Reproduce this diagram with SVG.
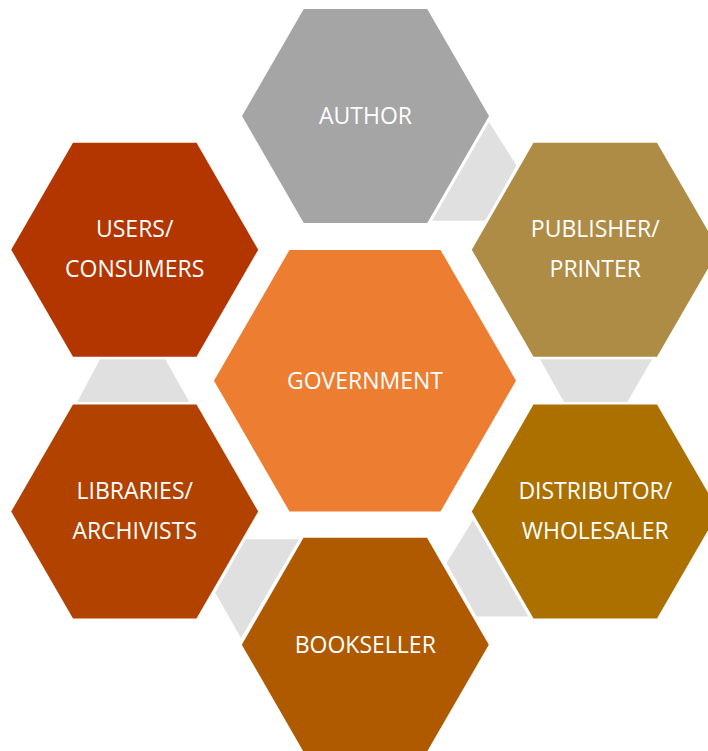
<svg xmlns="http://www.w3.org/2000/svg" width="708" height="751" viewBox="0 0 708 751">
<style>
.lbl{font-family:"Open Sans","Liberation Sans",sans-serif;font-size:23px;fill:#ffffff;text-anchor:middle}
.conn{fill:#e0e0e0}
</style>
<rect width="708" height="751" fill="#ffffff"/>
<g id="connectors">
<polygon class="conn" points="489,122 516.5,165.5 485,220.7 432,220.7"/>
<polygon class="conn" points="540,359.3 652,359.3 627.3,402 564,402"/>
<polygon class="conn" points="473,520 446.5,563 476.5,616.5 528.5,616.5"/>
<polygon class="conn" points="245.5,539.3 299,539.3 241,638 215.3,592.7"/>
<polygon class="conn" points="100,359.3 165.3,359.3 189.3,402 77.3,402"/>
</g>
<g id="author">
<polygon fill="#a5a5a5" points="242,116 303.75,9 427.25,9 489,116 427.25,223 303.75,223"/>
<text class="lbl" x="365.5" y="124">AUTHOR</text>
</g>
<g id="publisher">
<polygon fill="#af8c46" points="471.8,249.7 533.5,142.7 657,142.7 718.8,249.7 657,356.7 533.5,356.7"/>
<text class="lbl" x="595.3" y="237.4">PUBLISHER/</text>
<text class="lbl" x="595.3" y="277.4">PRINTER</text>
</g>
<g id="users">
<polygon fill="#b33500" points="11.2,249.7 73,142.7 196.5,142.7 258.2,249.7 196.5,356.7 73,356.7"/>
<text class="lbl" x="134.7" y="237.4">USERS/</text>
<text class="lbl" x="134.7" y="277.4">CONSUMERS</text>
</g>
<g id="government">
<polygon fill="#ed7d31" points="214,380.7 289.5,249.9 440.5,249.9 516,380.7 440.5,511.5 289.5,511.5"/>
<text class="lbl" x="365" y="388.5">GOVERNMENT</text>
</g>
<g id="libraries">
<polygon fill="#b24200" points="11.2,511.5 73,404.5 196.5,404.5 258.2,511.5 196.5,618.5 73,618.5"/>
<text class="lbl" x="134.7" y="499.3">LIBRARIES/</text>
<text class="lbl" x="134.7" y="539.3">ARCHIVISTS</text>
</g>
<g id="distributor">
<polygon fill="#ac7000" points="471.8,511.5 533.5,404.5 657,404.5 718.8,511.5 657,618.5 533.5,618.5"/>
<text class="lbl" x="595.3" y="499.3">DISTRIBUTOR/</text>
<text class="lbl" x="595.3" y="539.3">WHOLESALER</text>
</g>
<g id="bookseller">
<polygon fill="#af5a00" points="241.8,644.7 303.5,537.7 427,537.7 488.8,644.7 427,751.7 303.5,751.7"/>
<text class="lbl" x="365.3" y="652.5">BOOKSELLER</text>
</g>
</svg>
